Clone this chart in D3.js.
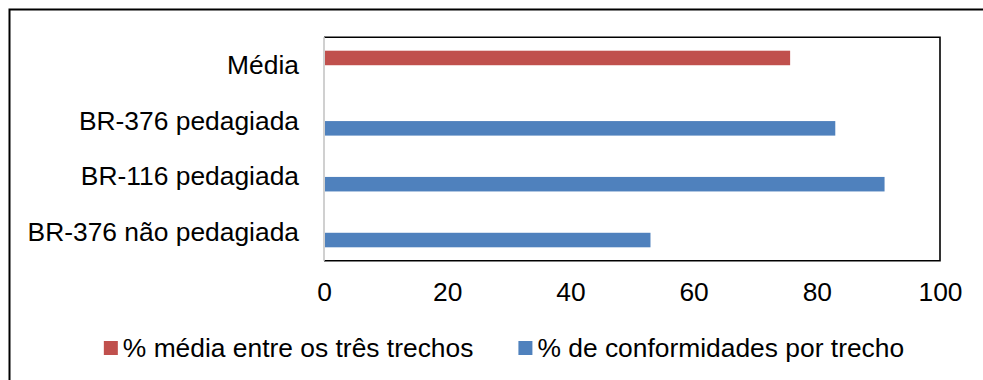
<!DOCTYPE html>
<html>
<head>
<meta charset="utf-8">
<script src="https://cdn.jsdelivr.net/npm/d3@7"></script>
<style>
  html, body { margin: 0; padding: 0; background: #fff; }
  svg { display: block; }
  text { font-family: "Liberation Sans", Arial, sans-serif; fill: #000; }
</style>
</head>
<body>
<svg id="chart" width="983" height="380"></svg>
<script>
// ---- data ----
const categories = ["Média", "BR-376 pedagiada", "BR-116 pedagiada", "BR-376 não pedagiada"];
const seriesNames = ["% média entre os três trechos", "% de conformidades por trecho"];
const mediaValues = [75.67, null, null, null];
const trechoValues = [null, 83, 91, 53];
const xTicks = [0, 20, 40, 60, 80, 100];
const seriesColors = ["#C0504D", "#4F81BD"];

// ---- layout ----
const svg = d3.select("#chart");
const plot = { left: 324, right: 940, top: 37.3, bottom: 260.7 };
const fontSize = 26.4;

// outer frame (extends past right/bottom edge)
svg.append("rect")
  .attr("x", 9.5).attr("y", 9.5)
  .attr("width", 1100).attr("height", 500)
  .attr("fill", "none").attr("stroke", "#000").attr("stroke-width", 2);

const x = d3.scaleLinear().domain([0, 100]).range([plot.left, plot.right]);
const y = d3.scaleBand().domain(categories).range([plot.top, plot.bottom]).paddingInner(0).paddingOuter(0);

const barH = y.bandwidth() * 0.26;

const series = [
  { name: seriesNames[0], values: mediaValues, color: seriesColors[0], offset: -1 },
  { name: seriesNames[1], values: trechoValues, color: seriesColors[1], offset: 0 }
];

// bars
series.forEach(s => {
  const rows = categories.map((c, i) => ({ cat: c, v: s.values[i] })).filter(d => d.v != null);
  svg.append("g").selectAll("rect").data(rows).join("rect")
    .attr("x", x(0))
    .attr("y", d => y(d.cat) + y.bandwidth() / 2 + s.offset * barH)
    .attr("width", d => x(d.v) - x(0))
    .attr("height", barH)
    .attr("fill", s.color);
});

// plot border: top, right, bottom black
svg.append("path")
  .attr("d", `M${plot.left},${plot.top}H${plot.right}V${plot.bottom}H${plot.left}`)
  .attr("fill", "none").attr("stroke", "#000").attr("stroke-width", 1.6);

// left (category) axis line, grey
svg.append("line")
  .attr("x1", plot.left).attr("x2", plot.left)
  .attr("y1", plot.top).attr("y2", plot.bottom)
  .attr("stroke", "#d0d0d0").attr("stroke-width", 2);

// category labels
const yAxis = d3.axisLeft(y).tickSize(0).tickPadding(25);
const gy = svg.append("g").attr("transform", `translate(${plot.left},0)`).call(yAxis);
gy.select(".domain").remove();
gy.selectAll("text").style("font-size", fontSize + "px").style("font-family", "'Liberation Sans', Arial, sans-serif");

// x tick labels
const xAxis = d3.axisBottom(x).tickValues(xTicks).tickSize(0).tickPadding(22);
const gx = svg.append("g").attr("transform", `translate(0,${plot.bottom})`).call(xAxis);
gx.select(".domain").remove();
gx.selectAll("text").style("font-size", fontSize + "px").style("font-family", "'Liberation Sans', Arial, sans-serif");

// legend
const legend = svg.append("g");
const sq = 14, gapText = 5, gapItem = 45, legendY = 341;
const items = series.map(s => {
  const g = legend.append("g");
  g.append("rect").attr("x", 0).attr("y", legendY).attr("width", sq).attr("height", sq).attr("fill", s.color);
  const t = g.append("text").attr("x", sq + gapText).attr("y", 357)
    .style("font-size", fontSize + "px").text(s.name);
  return { g, w: sq + gapText + t.node().getComputedTextLength() };
});
const total = items.reduce((a, it) => a + it.w, 0) + gapItem * (items.length - 1);
let cx = 504 - total / 2;
items.forEach(it => { it.g.attr("transform", `translate(${cx},0)`); cx += it.w + gapItem; });
</script>
</body>
</html>
